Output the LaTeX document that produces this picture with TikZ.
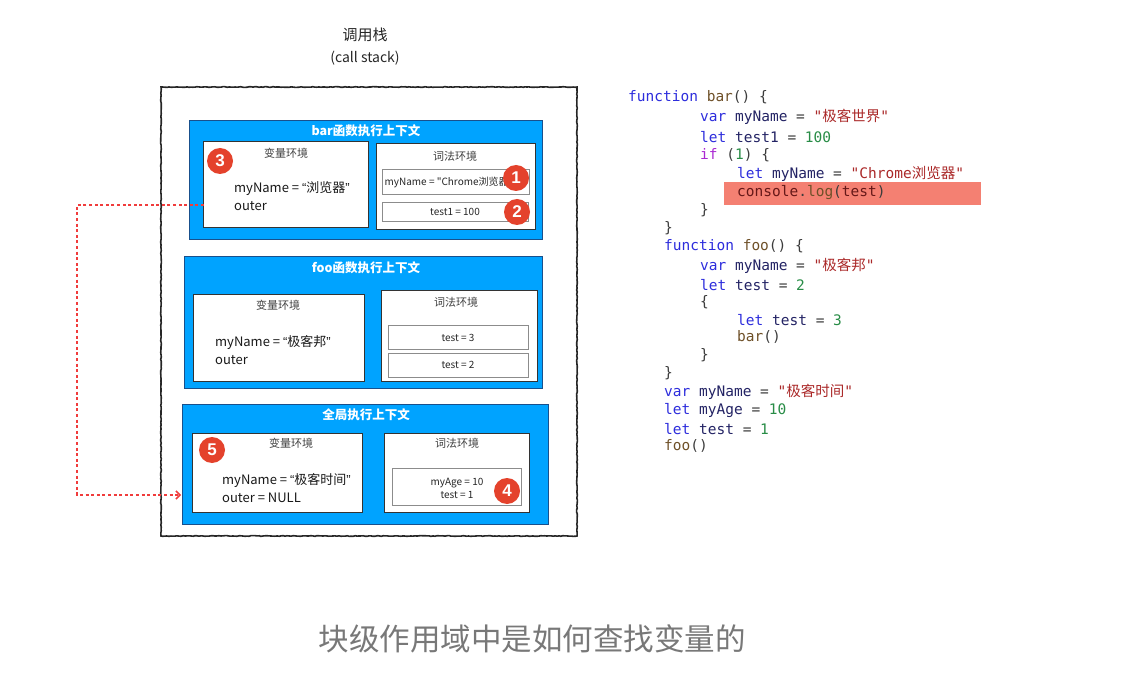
\documentclass[tikz,border=0pt]{standalone}
\usepackage{fontspec}
\usetikzlibrary{arrows.meta,decorations.pathmorphing}
\newfontfamily\cjk{Noto Sans CJK SC}
\newfontfamily\codefont{DejaVu Sans Mono}
\newfontfamily\badgefont{Liberation Sans}
\definecolor{ctxblue}{RGB}{0,163,255}
\definecolor{ctxedge}{RGB}{25,80,140}
\definecolor{badgered}{RGB}{228,66,44}
\definecolor{hlred}{RGB}{244,128,114}
\definecolor{arrred}{RGB}{240,60,60}
\definecolor{ckwc}{RGB}{45,45,220}
\definecolor{cifc}{RGB}{170,40,210}
\definecolor{cidc}{RGB}{35,35,100}
\definecolor{cfnc}{RGB}{110,80,40}
\definecolor{cstrc}{RGB}{170,40,40}
\definecolor{cnumc}{RGB}{40,140,70}
\definecolor{cpunc}{RGB}{60,60,60}
\definecolor{capgray}{RGB}{120,120,120}
\newcommand\ckw[1]{\textcolor{ckwc}{#1}}
\newcommand\cif[1]{\textcolor{cifc}{#1}}
\newcommand\cid[1]{\textcolor{cidc}{#1}}
\newcommand\cfn[1]{\textcolor{cfnc}{#1}}
\newcommand\cstr[1]{\textcolor{cstrc}{#1}}
\newcommand\cnum[1]{\textcolor{cnumc}{#1}}
\newcommand\cpun[1]{\textcolor{cpunc}{#1}}
\newcommand\zh[1]{{\cjk #1}}
\newcommand\oqt{{\badgefont “}}
\newcommand\cqt{{\badgefont ”}}
\begin{document}
\begin{tikzpicture}[x=1pt,y=-1pt,
  bluebox/.style={draw=ctxedge,fill=ctxblue,line width=0.9pt,anchor=north west,inner sep=0pt,outer sep=0pt},
  whitebox/.style={draw=black!80,fill=white,line width=1pt,anchor=north west,inner sep=0pt,outer sep=0pt},
  graybox/.style={draw=black!45,fill=white,line width=0.8pt,anchor=north west,inner sep=0pt,outer sep=0pt},
  ctxtitle/.style={text=white,font=\cjk\bfseries\fontsize{12.5}{14}\selectfont},
  envlabel/.style={text=black!75,font=\cjk\fontsize{11}{13}\selectfont},
  vartext/.style={text=black!90,font=\cjk\fontsize{13}{18}\selectfont,anchor=west,align=left,inner sep=0pt},
  smalltext/.style={text=black!85,font=\cjk\fontsize{10}{13}\selectfont,align=center,inner sep=0pt},
  badge/.style={circle,fill=badgered,text=white,minimum size=26pt,inner sep=0pt,font=\badgefont\bfseries\fontsize{17}{17}\selectfont},
  codeline/.style={anchor=west,inner sep=0pt,font=\codefont\fontsize{14.5}{17}\selectfont,text=cpunc},
  ptr/.style={draw=arrred,line width=1.5pt,dash pattern=on 3pt off 2.6pt,-{Straight Barb[length=4pt,width=8pt]}}
]
\useasboundingbox (0,0) rectangle (1126,700);

% title
\node[font=\cjk\fontsize{15}{17}\selectfont,text=black!85] (title) at (365,35) {调用栈};
\node[font=\cjk\fontsize{14}{17}\selectfont,text=black!85] (subtitle) at (365,58) {(call stack)};

% outer call stack
\draw[black!85,line width=1.6pt,decorate,decoration={random steps,segment length=2pt,amplitude=0.35pt}] (161,87) rectangle (577,536);
\node[anchor=north west,minimum width=416pt,minimum height=449pt,inner sep=0pt] (stack) at (161,87) {};

% bar context
\node[bluebox,minimum width=353pt,minimum height=119pt] (barctx) at (189,120) {};
\node[ctxtitle] (bart) at (366,131) {bar函数执行上下文};
\node[whitebox,minimum width=165pt,minimum height=86pt] (barvar) at (203,142) {};
\node[envlabel] (barvarl) at (286,153) {变量环境};
\node[badge] (b3) at (220,161) {3};
\node[vartext] (barvart) at (234,196) {myName = \oqt 浏览器\cqt\\outer};
\node[whitebox,minimum width=159pt,minimum height=86pt] (barlex) at (376,144) {};
\node[envlabel] (barlexl) at (455,156) {词法环境};
\node[graybox,minimum width=147pt,minimum height=25pt] (barlex1) at (382,169) {};
\node[smalltext] (barlex1t) at (449,182) {myName = "Chrome浏览器"};
\node[graybox,minimum width=146pt,minimum height=19pt] (barlex2) at (382,202) {};
\node[smalltext] (barlex2t) at (455,212) {test1 = 100};
\node[badge] (b1) at (516,178) {1};
\node[badge] (b2) at (517,212) {2};

% foo context
\node[bluebox,minimum width=358pt,minimum height=132pt] (fooctx) at (184,256) {};
\node[ctxtitle] (foot) at (366,268) {foo函数执行上下文};
\node[whitebox,minimum width=171pt,minimum height=86pt] (foovar) at (193,295) {};
\node[envlabel] (foovarl) at (278,305) {变量环境};
\node[vartext] (foovart) at (215,350) {myName = \oqt 极客邦\cqt\\outer};
\node[whitebox,minimum width=156pt,minimum height=90pt] (foolex) at (381,291) {};
\node[envlabel] (foolexl) at (456,302) {词法环境};
\node[graybox,minimum width=140pt,minimum height=24pt] (foolex1) at (388,325) {};
\node[smalltext] (foolex1t) at (458,338) {test = 3};
\node[graybox,minimum width=140pt,minimum height=24pt] (foolex2) at (388,353) {};
\node[smalltext] (foolex2t) at (458,365) {test = 2};

% global context
\node[bluebox,minimum width=366pt,minimum height=120pt] (glbctx) at (182,404) {};
\node[ctxtitle] (glbt) at (366,415) {全局执行上下文};
\node[whitebox,minimum width=170pt,minimum height=79pt] (glbvar) at (192,433) {};
\node[envlabel] (glbvarl) at (291,443) {变量环境};
\node[badge] (b5) at (212,450) {5};
\node[vartext] (glbvart) at (222,488) {myName = \oqt 极客时间\cqt\\outer = NULL};
\node[whitebox,minimum width=145pt,minimum height=79pt] (glblex) at (384,433) {};
\node[envlabel] (glblexl) at (457,443) {词法环境};
\node[graybox,minimum width=129pt,minimum height=37pt] (glblex1) at (392,468) {};
\node[smalltext] (glblex1t) at (457,488) {myAge = 10\\test = 1};
\node[badge] (b4) at (507,491) {4};

% outer pointer
\coordinate (ostart) at (204,205);
\coordinate (oend) at (181,495);
\coordinate (ocorner) at (77,495);
\draw[ptr] (ostart) -| (ocorner) -- (oend);

% code
\fill[hlred] (724,182) rectangle (981,205);
\node[codeline] (l1) at (628,97) {\ckw{function} \cfn{bar}() \{};
\node[codeline] (l2) at (700,117) {\ckw{var} \cid{myName} = \cstr{"\zh{极客世界}"}};
\node[codeline] (l3) at (700,137) {\ckw{let} \cid{test1} = \cnum{100}};
\node[codeline] (l4) at (700,155) {\cif{if} (\cnum{1}) \{};
\node[codeline] (l5) at (737,174) {\ckw{let} \cid{myName} = \cstr{"Chrome\zh{浏览器}"}};
\node[codeline] (l6) at (737,193) {\textcolor{cstrc!60!black}{console}.\cfn{log}(\textcolor{cstrc!60!black}{test})};
\node[codeline] (l7) at (700,210) {\}};
\node[codeline] (l8) at (664,228) {\}};
\node[codeline] (l9) at (664,246) {\ckw{function} \cfn{foo}() \{};
\node[codeline] (l10) at (700,266) {\ckw{var} \cid{myName} = \cstr{"\zh{极客邦}"}};
\node[codeline] (l11) at (700,285) {\ckw{let} \cid{test} = \cnum{2}};
\node[codeline] (l12) at (700,302) {\{};
\node[codeline] (l13) at (737,320) {\ckw{let} \cid{test} = \cnum{3}};
\node[codeline] (l14) at (737,337) {\cfn{bar}()};
\node[codeline] (l15) at (700,355) {\}};
\node[codeline] (l16) at (664,373) {\}};
\node[codeline] (l17) at (664,392) {\ckw{var} \cid{myName} = \cstr{"\zh{极客时间}"}};
\node[codeline] (l18) at (664,411) {\ckw{let} \cid{myAge} = \cnum{10}};
\node[codeline] (l19) at (664,429) {\ckw{let} \cid{test} = \cnum{1}};
\node[codeline] (l20) at (664,446) {\cfn{foo}()};

% caption
\node[font=\cjk\fontsize{30.5}{33}\selectfont,text=capgray] (caption) at (532,639) {块级作用域中是如何查找变量的};
\end{tikzpicture}
\end{document}
